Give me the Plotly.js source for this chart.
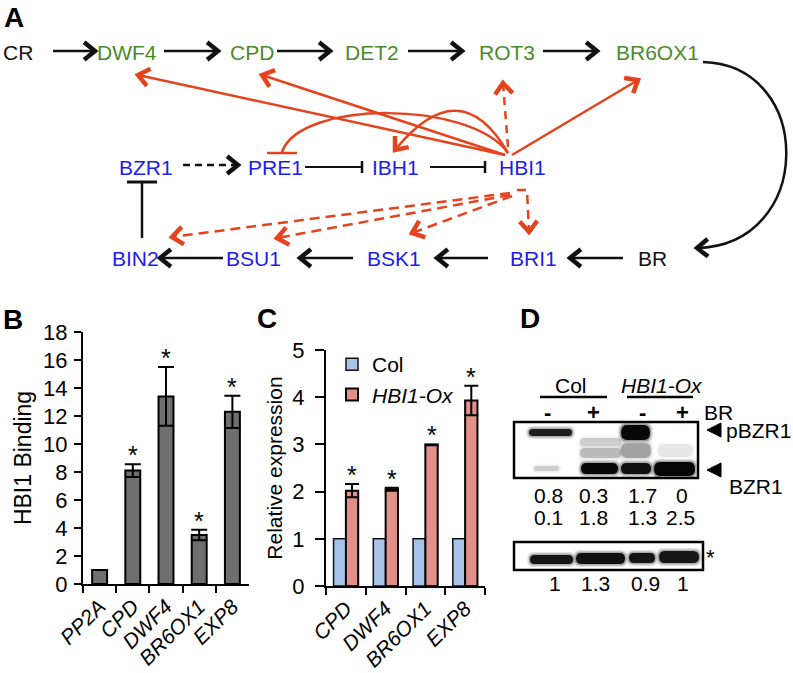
<!DOCTYPE html>
<html><head><meta charset="utf-8">
<script src="https://cdn.plot.ly/plotly-3.0.1.min.js"></script>
<style>html,body{margin:0;padding:0;background:#fff}#chart{width:793px;height:673px}</style>
</head><body><div id="chart"></div>
<script>
// ---------- Panel B data: HBI1 ChIP binding ----------
const genesB = ['PP2A','CPD','DWF4','BR6OX1','EXP8'];
const bindingB = [1.0, 8.1, 13.4, 3.5, 12.3];
const bindingErrB = [0, 0.45, 2.1, 0.38, 1.15];
const starsB = [false, true, true, true, true];

// ---------- Panel C data: relative expression ----------
const genesC = ['CPD','DWF4','BR6OX1','EXP8'];
const colExpr = [1, 1, 1, 1];
const oxExpr = [2.02, 2.05, 2.99, 3.93];
const oxErr = [0.14, 0.03, 0.01, 0.31];
const starsC = [true, true, true, true];

// ---------- Panel D data: western blot quantification ----------
const genotypesD = ['Col', 'HBI1-Ox'];
const brTreat = ['-', '+', '-', '+'];
const pBZR1Ratio = [0.8, 0.3, 1.7, 0];
const BZR1Ratio = [0.1, 1.8, 1.3, 2.5];
const loadingRatio = [1, 1.3, 0.9, 1];

// ---------- Panel A nodes ----------
const biosynthesis = ['CR','DWF4','CPD','DET2','ROT3','BR6OX1'];
const signaling1 = ['BZR1','PRE1','IBH1','HBI1'];
const signaling2 = ['BIN2','BSU1','BSK1','BRI1','BR'];

const FONT = 'Liberation Sans, Arial, sans-serif';
const RED = '#e4431e', BLK = '#111111', GRN = '#4b8a2c', BLU = '#1c1cf0';

const S = [], A = [];
function ln(x0,y0,x1,y1,c,w,d){S.push({type:'line',xref:'x3',yref:'y3',x0:x0,y0:y0,x1:x1,y1:y1,layer:'above',line:{color:c,width:w,dash:d||'solid'}});}
function pth(p,c,w,d,fill){S.push({type:'path',xref:'x3',yref:'y3',path:p,layer:'above',fillcolor:fill||'rgba(0,0,0,0)',line:{color:c,width:w,dash:d||'solid'}});}
function head(tx,ty,ang,c,w){const len=14,h=0.68;const a1=ang+Math.PI-h,a2=ang+Math.PI+h;
  pth('M'+(tx+len*Math.cos(a1))+','+(ty+len*Math.sin(a1))+'L'+tx+','+ty+'L'+(tx+len*Math.cos(a2))+','+(ty+len*Math.sin(a2)),c,w);}
function arrow(x0,y0,x1,y1,c,w,d){ln(x0,y0,x1,y1,c,w,d);head(x1,y1,Math.atan2(y1-y0,x1-x0),c,w+2);}
function tbar(x0,y0,x1,y1,c,w,bl){ln(x0,y0,x1,y1,c,w);const a=Math.atan2(y1-y0,x1-x0);
  ln(x1-bl*Math.sin(a),y1+bl*Math.cos(a),x1+bl*Math.sin(a),y1-bl*Math.cos(a),c,w+0.5);}
function txt(s,x,y,c,size,extra){A.push(Object.assign({text:s,x:x,y:y,xref:'x3',yref:'y3',showarrow:false,xanchor:'center',yanchor:'middle',font:{family:FONT,size:size,color:c}},extra||{}));}

// node positions (layout)
const pos = {CR:[18,52],DWF4:[127,52],CPD:[252,52],DET2:[372,52],ROT3:[507,52],BR6OX1:[657,52],
  BZR1:[146,167],PRE1:[275,167],IBH1:[395,167],HBI1:[522,167],
  BIN2:[135,258],BSU1:[253,258],BSK1:[394,258],BRI1:[533,258],BR:[652,258]};
biosynthesis.forEach(n=>txt(n,pos[n][0],pos[n][1],n==='CR'?BLK:GRN,21));
signaling1.forEach(n=>txt(n,pos[n][0],pos[n][1],BLU,21));
signaling2.forEach(n=>txt(n,pos[n][0],pos[n][1],n==='BR'?BLK:BLU,21));

// black pathway arrows
arrow(53,51,95,51,BLK,2.5); arrow(164,51,218,51,BLK,2.5); arrow(277,51,330,51,BLK,2.5);
arrow(408,51,462,51,BLK,2.5); arrow(543,51,597,51,BLK,2.5);
pth('M703,62 C815,65 815,245 697,248',BLK,2.5); head(697,248,Math.atan2(3,-118),BLK,4.5);
arrow(623,258,570,258,BLK,2.5); arrow(488,258,437,258,BLK,2.5);
arrow(353,258,300,258,BLK,2.5); arrow(223,258,160,258,BLK,2.5);
arrow(183,165,238,165,BLK,2.5,'7px,5px');
tbar(305,167,362,167,BLK,2,6); tbar(430,167,485,167,BLK,2,6);
tbar(142,238,142,182,BLK,2.5,15);

// red HBI1 targets
arrow(505,155,138,75,RED,2.5); arrow(505,155,262,75,RED,2.5);
arrow(508,147,503,83,RED,2.5,'8px,6px'); arrow(512,155,638,80,RED,2.5);
pth('M508,153 Q460,70 395,150',RED,2.5); head(395,150,Math.atan2(80,-65),RED,4.5);
pth('M508,153 C470,100 300,100 282,152',RED,2.5); ln(267,153,297,153,RED,2.5);
arrow(510,193,172,237,RED,2.5,'10px,6px'); arrow(510,195,277,238,RED,2.5,'10px,6px');
arrow(512,196,412,233,RED,2.5,'10px,6px');
pth('M517,190 L527,190 L529,232',RED,2.5,'9px,6px'); head(529,232,Math.atan2(42,2),RED,4.5);

// panel letters
txt('<b>A</b>',14,17,'#000',28); txt('<b>B</b>',13,319,'#000',28);
txt('<b>C</b>',267,318,'#000',28); txt('<b>D</b>',530,318,'#000',28);

// ---------- Panel D blot ----------
const laneX = [548,593,642,682];
txt(genotypesD[0],571,385,'#000',21); ln(540,397,607,397,'#000',2.5);
txt('<i>'+genotypesD[1]+'</i>',662,385,'#000',21); ln(627,397,693,397,'#000',2.5);
brTreat.forEach((s,i)=>txt('<b>'+s+'</b>',laneX[i]-(i===0?1:0),412,'#000',22));
txt('BR',718,412,'#000',21);
function rr(x0,x1,y0,y1,a){
  const r=Math.min(6,(y1-y0)/2);
  S.push({type:'path',xref:'x3',yref:'y3',layer:'above',fillcolor:'rgba(0,0,0,'+a+')',line:{width:0},
    path:'M'+(x0+r)+','+y0+' L'+(x1-r)+','+y0+' Q'+x1+','+y0+' '+x1+','+((y0+y1)/2)+' Q'+x1+','+y1+' '+(x1-r)+','+y1+' L'+(x0+r)+','+y1+' Q'+x0+','+y1+' '+x0+','+((y0+y1)/2)+' Q'+x0+','+y0+' '+(x0+r)+','+y0+' Z'});
}
function band(x0,x1,y0,y1,a){
  rr(x0-3,x1+3,y0-3,y1+3,a*0.12);
  rr(x0-1.5,x1+1.5,y0-1.5,y1+1.5,a*0.3);
  rr(x0,x1,y0,y1,a);
}
// blot 1
band(529,572,429,436,0.82);
band(534,559,466,471,0.14);
band(580,621,438,446,0.14); band(580,621,448,458,0.2);
band(581,618,463,474,0.95);
band(621,650,425,440,0.95);
band(621,651,443,458,0.28);
band(621,651,463,474,0.9);
band(658,693,444,457,0.07);
band(654,695,462,476,0.97);
S.push({type:'rect',xref:'x3',yref:'y3',x0:514,x1:698,y0:422,y1:478,layer:'above',line:{color:'#000',width:2.5},fillcolor:'rgba(0,0,0,0)'});
pth('M707,430 L721,423 L721,437 Z','#000',1,null,'#000');
pth('M707,470 L721,463 L721,477 Z','#000',1,null,'#000');
txt('pBZR1',724,430,'#000',21,{xanchor:'left'});
txt('BZR1',727,486,'#000',21,{xanchor:'left'});
pBZR1Ratio.forEach((v,i)=>txt(String(v),laneX[i],495,'#000',21));
BZR1Ratio.forEach((v,i)=>txt(String(v),laneX[i]-(i===3?2:0),517,'#000',21));
// blot 2 (loading)
band(530,573,555,564,0.88); band(576,625,553,564,0.9);
band(629,655,553,563,0.88); band(659,699,551,563,0.88);
S.push({type:'rect',xref:'x3',yref:'y3',x0:514,x1:703,y0:542,y1:570,layer:'above',line:{color:'#000',width:2.5},fillcolor:'rgba(0,0,0,0)'});
txt('*',710,557,'#000',22);
const laneX2=[555,595,645,683];
loadingRatio.forEach((v,i)=>txt(String(v),laneX2[i],583,'#000',21));

// ---------- Stars for bar panels ----------
genesB.forEach((g,i)=>{ if(starsB[i]) A.push({text:'*',x:g,y:bindingB[i]+bindingErrB[i],xref:'x',yref:'y',showarrow:false,yanchor:'bottom',yshift:-7,font:{family:FONT,size:25,color:'#000'}}); });
genesC.forEach((g,i)=>{ if(starsC[i]) A.push({text:'*',x:g,y:oxExpr[i]+oxErr[i],xref:'x2',yref:'y2',showarrow:false,yanchor:'bottom',yshift:-7,xshift:6.2,font:{family:FONT,size:25,color:'#000'}}); });

const traces = [
  {type:'bar',x:genesB,y:bindingB,xaxis:'x',yaxis:'y',width:0.45,showlegend:false,
   marker:{color:'#6f6f6f',line:{color:'#000',width:2}},
   error_y:{type:'data',array:bindingErrB,visible:true,color:'#000',thickness:2,width:8}},
  {type:'bar',x:genesC,y:colExpr,name:'Col',xaxis:'x2',yaxis:'y2',
   marker:{color:'#a8c3ea',line:{color:'#111',width:1.5}}},
  {type:'bar',x:genesC,y:oxExpr,name:'<i>HBI1-Ox</i>',xaxis:'x2',yaxis:'y2',
   marker:{color:'#e3908a',line:{color:'#000',width:2}},
   error_y:{type:'data',array:oxErr,visible:true,color:'#000',thickness:2,width:7}},
  {type:'scatter',x:[],y:[],xaxis:'x3',yaxis:'y3',showlegend:false,hoverinfo:'skip'}
];

const yTickFont = {family:FONT,size:22,color:'#000'};
const xTickFont = {family:FONT,size:21,color:'#000',style:'italic'};
const layout = {
  width:793,height:673,margin:{l:0,r:0,t:0,b:0},
  paper_bgcolor:'#fff',plot_bgcolor:'rgba(0,0,0,0)',
  font:{family:FONT,color:'#000'},
  barmode:'group',bargap:0.38,bargroupgap:0,
  showlegend:true,
  legend:{x:332/793,y:1-344/673,xanchor:'left',yanchor:'top',bgcolor:'rgba(0,0,0,0)',font:{family:FONT,size:21,color:'#000'},itemwidth:30},
  xaxis:{domain:[83/793,249/793],anchor:'y',type:'category',showline:true,linecolor:'#000',linewidth:2,
    ticks:'outside',tickson:'boundaries',ticklen:7,tickwidth:2,tickcolor:'#000',tickangle:-45,tickfont:xTickFont,showgrid:false,zeroline:false},
  yaxis:{domain:[1-584/673,1-332/673],anchor:'x',range:[0,18],dtick:2,showline:true,linecolor:'#000',linewidth:2,
    ticks:'outside',ticklen:7,tickwidth:2,tickcolor:'#000',tickfont:yTickFont,ticklabelstandoff:2,showgrid:false,zeroline:false,
    title:{text:'HBI1 Binding',font:{family:FONT,size:23,color:'#000'},standoff:5}},
  xaxis2:{domain:[326/793,485/793],anchor:'y2',type:'category',showline:true,linecolor:'#000',linewidth:2,
    ticks:'outside',tickson:'boundaries',ticklen:7,tickwidth:2,tickcolor:'#000',tickangle:-45,tickfont:xTickFont,showgrid:false,zeroline:false},
  yaxis2:{domain:[1-586/673,1-350/673],anchor:'x2',range:[0,5],dtick:1,showline:true,linecolor:'#000',linewidth:2,
    ticks:'outside',ticklen:9,tickwidth:2,tickcolor:'#000',tickfont:yTickFont,ticklabelstandoff:6,showgrid:false,zeroline:false,
    title:{text:'Relative expression',font:{family:FONT,size:21,color:'#000'},standoff:4}},
  xaxis3:{domain:[0,1],anchor:'y3',range:[0,793],visible:false,fixedrange:true},
  yaxis3:{domain:[0,1],anchor:'x3',range:[673,0],visible:false,fixedrange:true},
  shapes:S,annotations:A
};
Plotly.newPlot('chart',traces,layout,{staticPlot:true,displayModeBar:false});
</script></body></html>
